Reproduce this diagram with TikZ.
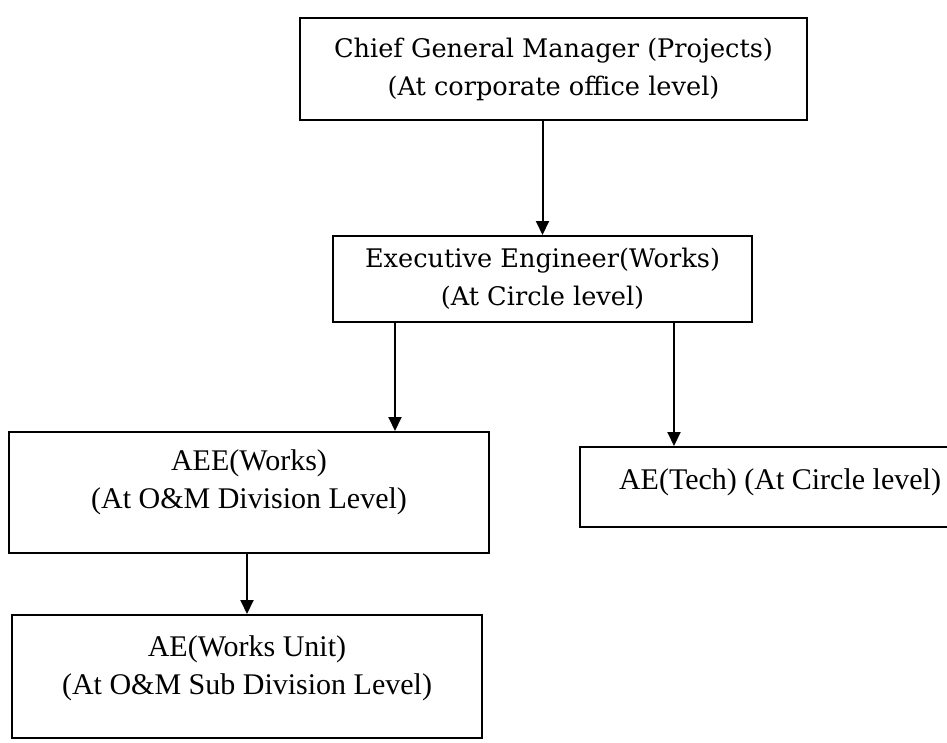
\documentclass[tikz,border=0pt]{standalone}
\usepackage{fontspec}
\newfontfamily\topfont{DejaVu Serif}
\newfontfamily\lowfont{Liberation Serif}
\usetikzlibrary{arrows.meta,positioning,calc}
\begin{document}
\begin{tikzpicture}[x=1pt,y=-1pt,
  box/.style={draw,line width=2pt,inner sep=0pt,align=center},
  topbox/.style={box,font={\topfont\fontsize{25.6}{38}\selectfont}},
  lowbox/.style={box,font={\lowfont\fontsize{30}{38}\selectfont}},
  link/.style={line width=2pt,-{Triangle[length=14pt,width=13pt]}}]
   \useasboundingbox (0,0) rectangle (947,742);
   \clip (0,0) rectangle (947,742);
   \node (CGM) at (553.5,69)[topbox,minimum width=507pt,minimum height=102pt] {Chief General Manager (Projects)\\(At corporate office level)};
   \node (EE) at (542.5,279)[topbox,minimum width=419pt,minimum height=86pt] {Executive Engineer(Works)\\(At Circle level)};
   \node (AEE) at (249,492.5)[lowbox,minimum width=480pt,text height=76pt,text depth=45pt] {AEE(Works)\\(At O\&M Division Level)};
   \node (AET) at (780,487)[lowbox,minimum width=400pt,text height=42pt,text depth=38pt] {AE(Tech) (At Circle level)};
   \node (AEW) at (247,676.5)[lowbox,minimum width=470pt,text height=79pt,text depth=44pt] {AE(Works Unit)\\(At O\&M Sub Division Level)};
   \draw[link] (EE.north |- CGM.south) -- (EE.north);
   \draw[link] ([xshift=63pt]EE.south west) -- ([xshift=63pt]EE.south west |- AEE.north);
   \draw[link] ([xshift=-79pt]EE.south east) -- ([xshift=-79pt]EE.south east |- AET.north);
   \draw[link] (AEW.north |- AEE.south) -- (AEW.north);
\end{tikzpicture}
\end{document}
